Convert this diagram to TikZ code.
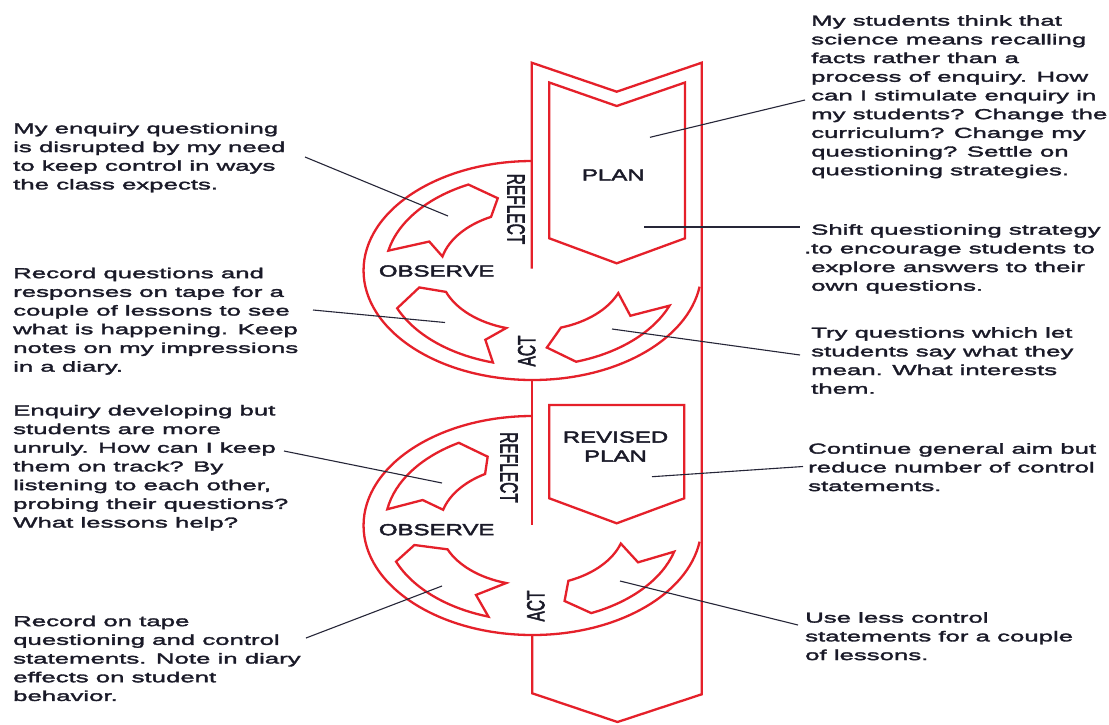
\documentclass[tikz,border=0pt]{standalone}
\usepackage{fontspec}
\usepackage{graphicx}
\setmainfont{Liberation Sans}[FakeStretch=1.79, FakeBold=2.2]
\newfontfamily\labelfont{Liberation Sans}[FakeStretch=1.5, FakeBold=2.6]
\newfontfamily\uprightlabelfont{Liberation Sans}[FakeBold=2.4]
\definecolor{diagred}{HTML}{E5202A}
\definecolor{ink}{HTML}{1A1A28}
\definecolor{pointerink}{HTML}{262638}

% one curved cycle arrow: outer tail angle, outer head angle, tip, inner head angle, inner tail angle, notch
\newcommand{\cyclearrow}[6]{%
  \draw[redline] (#1:95.5) arc[start angle=#1, end angle=#2, radius=95.5]
    -- (#3) -- (#4:60) arc[start angle=#4, end angle=#5, radius=60]
    -- (#6) -- cycle;}

\begin{document}
\begin{tikzpicture}[x=1pt, y=-1pt,
  redline/.style={draw=diagred, line width=2.3pt, line join=miter},
  pointer/.style={draw=pointerink, line width=1.1pt},
  note/.style={anchor=north west, inner sep=0pt, align=left, text=ink,
    font=\fontsize{14.4}{18.7}\selectfont},
  stagelabel/.style={inner sep=0pt, text=ink, align=center,
    font=\labelfont\fontsize{16}{19}\selectfont},
  sidelabel/.style={inner sep=0pt, text=ink,
    font=\uprightlabelfont\fontsize{15.5}{19}\selectfont}]

\useasboundingbox (0,0) rectangle (1109,724);
\fill[white] (0,0) rectangle (1109,724);

% the long banner running through both cycles
\draw[redline] (531.7,268.5) -- (531.7,62.7) -- (616.7,91.7) -- (701.7,62.7)
  -- (701.7,694.3) -- (617.5,722) -- (532.3,693.3) -- (532.3,635);
\draw[redline] (531.7,380) -- (531.7,525);

% plan boxes
\draw[redline] (549.3,82.5) -- (616.7,106) -- (685,82.5) -- (685,238.3)
  -- (616.7,263.3) -- (549.3,238.3) -- cycle;
\draw[redline] (549.3,405) -- (684.3,405) -- (684.3,498.3)
  -- (616.7,523.3) -- (549.3,498.3) -- cycle;

% first cycle
\begin{scope}[shift={(532.5,270.5)}, xscale=1.543, yscale=-1]
  \draw[redline] (90:109.5) arc[start angle=90, end angle=351.5, radius=109.5];
  \cyclearrow{168}{115.8}{107.3:75.7}{116.6}{166.5}{156.6:72.9}
  \cyclearrow{254.4}{203.3}{193:75.3}{200.9}{253.5}{246.2:75.7}
  \cyclearrow{338.4}{287.2}{276.9:77.6}{287.9}{337.9}{324.5:77.9}
\end{scope}

% second cycle
\begin{scope}[shift={(532.5,525.5)}, xscale=1.543, yscale=-1]
  \draw[redline] (90:109.5) arc[start angle=90, end angle=351.5, radius=109.5];
  \cyclearrow{170.2}{120}{112.9:74.7}{120.8}{164.8}{160.3:75.6}
  \cyclearrow{252.6}{202.2}{194.3:79}{203.4}{253.5}{242.2:78.5}
  \cyclearrow{344.1}{293.5}{285.4:78.3}{292.8}{342.5}{331.7:77.7}
\end{scope}

% stage labels
\node[stagelabel] (plan1) at (613.3,175) {PLAN};
\node[stagelabel] (plan2) at (615.5,446.5) {REVISED\\PLAN};
\node[stagelabel] (observe1) at (436.7,271) {OBSERVE};
\node[stagelabel] (observe2) at (436.7,529.7) {OBSERVE};
\node[sidelabel, rotate=-90] (reflect1) at (516,209) {\scalebox{1}[1.6]{REFLECT}};
\node[sidelabel, rotate=-90] (reflect2) at (509,467.5) {\scalebox{1}[1.6]{REFLECT}};
\node[sidelabel, rotate=90] (act1) at (526.7,351) {\scalebox{1}[1.6]{ACT}};
\node[sidelabel, rotate=90] (act2) at (535.8,606) {\scalebox{1}[1.6]{ACT}};

% notes on the right
\node[note] (noteplan) at (811,15) {My students think that\\science means recalling\\facts rather than a\\process of enquiry. How\\can I stimulate enquiry in\\my students? Change the\\curriculum? Change my\\questioning? Settle on\\questioning strategies.};
\node[note] (noteshift) at (811,224) {Shift questioning strategy\\\llap{.}to encourage students to\\explore answers to their\\own questions.};
\node[note] (notetry) at (811,327) {Try questions which let\\students say what they\\mean. What interests\\them.};
\node[note] (notecontinue) at (808,443) {Continue general aim but\\reduce number of control\\statements.};
\node[note] (noteuse) at (805,612) {Use less control\\statements for a couple\\of lessons.};

% notes on the left
\node[note] (notedisrupt) at (13,122.7) {My enquiry questioning\\is disrupted by my need\\to keep control in ways\\the class expects.};
\node[note] (noterecord) at (13,267.5) {Record questions and\\responses on tape for a\\couple of lessons to see\\what is happening. Keep\\notes on my impressions\\in a diary.};
\node[note] (noteunruly) at (13,404.7) {Enquiry developing but\\students are more\\unruly. How can I keep\\them on track? By\\listening to each other,\\probing their questions?\\What lessons help?};
\node[note] (notetape) at (13,615.5) {Record on tape\\questioning and control\\statements. Note in diary\\effects on student\\behavior.};

% pointer ends
\coordinate (pPlanA) at (650,137.3);   \coordinate (tPlanA) at (805,100);
\coordinate (pPlanB) at (644,227);     \coordinate (tPlanB) at (800,227);
\coordinate (pAct1) at (612,329);      \coordinate (tAct1) at (800,355);
\coordinate (pPlan2) at (652,476.7);   \coordinate (tPlan2) at (803,466.5);
\coordinate (pAct2) at (620,581);      \coordinate (tAct2) at (798,625);
\coordinate (pReflect1) at (448,216);  \coordinate (tReflect1) at (305,157);
\coordinate (pObserve1) at (445,322.5);\coordinate (tObserve1) at (313,310);
\coordinate (pReflect2) at (442,483);  \coordinate (tReflect2) at (284,451);
\coordinate (pObserve2) at (442,586);  \coordinate (tObserve2) at (306,638);

\draw[pointer] (pPlanA) -- (tPlanA);
\draw[pointer] (pPlanB) -- (tPlanB);
\draw[pointer] (pAct1) -- (tAct1);
\draw[pointer] (pPlan2) -- (tPlan2);
\draw[pointer] (pAct2) -- (tAct2);
\draw[pointer] (pReflect1) -- (tReflect1);
\draw[pointer] (pObserve1) -- (tObserve1);
\draw[pointer] (pReflect2) -- (tReflect2);
\draw[pointer] (pObserve2) -- (tObserve2);
\end{tikzpicture}
\end{document}
